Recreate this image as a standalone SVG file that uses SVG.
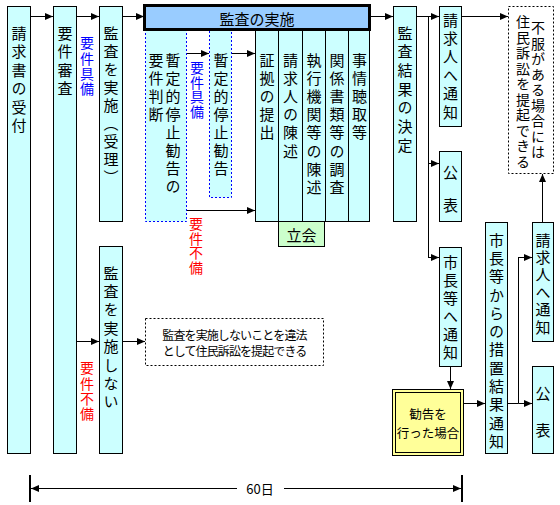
<svg xmlns="http://www.w3.org/2000/svg" width="560" height="505" viewBox="0 0 560 505">
<defs>
<marker id="ar" markerUnits="userSpaceOnUse" markerWidth="9" markerHeight="8" refX="8" refY="4" orient="auto">
<path d="M0,0.5 L8,4 L0,7.5 Z" fill="#000"/>
</marker>
</defs>
<style>
.box{fill:#ccffff;stroke:#000;stroke-width:1}
.dashb{fill:#ccffff;stroke:#0000ff;stroke-width:1;stroke-dasharray:2,2}
.dashk{fill:#fff;stroke:#000;stroke-width:1;stroke-dasharray:2,2}
.ln{fill:none;stroke:#000;stroke-width:1}
.arr{fill:none;stroke:#000;stroke-width:1;marker-end:url(#ar)}
text{font-family:"Noto Sans CJK JP","Noto Sans CJK SC",sans-serif;fill:#000}
.v{font-size:15px;writing-mode:vertical-rl;letter-spacing:3.5px}
.vs{font-size:14px;writing-mode:vertical-rl;letter-spacing:1.2px}
.h{font-size:15px;text-anchor:middle;dominant-baseline:central}
.blue{fill:#0000ff}
.red{fill:#ff0000}
</style>

<g id="connectors">
<line class="arr" x1="31" y1="16.5" x2="53" y2="16.5"/>
<line class="arr" x1="77" y1="16.5" x2="99" y2="16.5"/>
<line class="arr" x1="123" y1="16.5" x2="144" y2="16.5"/>
<line class="arr" x1="370" y1="16.5" x2="393" y2="16.5"/>
<line class="arr" x1="417" y1="16.5" x2="439" y2="16.5"/>
<polyline class="ln" points="428.5,16.5 428.5,257.5"/>
<line class="arr" x1="428.5" y1="163.5" x2="439" y2="163.5"/>
<line class="arr" x1="428" y1="257.5" x2="439" y2="257.5"/>
<line class="arr" x1="462" y1="16.5" x2="508" y2="16.5"/>
<line class="arr" x1="542.5" y1="222" x2="542.5" y2="174"/>
<line class="arr" x1="187" y1="53.5" x2="209" y2="53.5"/>
<line class="arr" x1="232" y1="53.5" x2="255" y2="53.5"/>
<line class="arr" x1="187" y1="210.5" x2="255" y2="210.5"/>
<line class="arr" x1="77" y1="341.5" x2="99" y2="341.5"/>
<line class="arr" x1="123" y1="341.5" x2="145" y2="341.5"/>
<line class="arr" x1="450.5" y1="367" x2="450.5" y2="389"/>
<line class="arr" x1="464" y1="403.5" x2="485" y2="403.5"/>
<polyline class="ln" points="508,403.5 518.5,403.5 518.5,257.5"/>
<line class="arr" x1="518" y1="257.5" x2="532" y2="257.5"/>
<line class="arr" x1="518.5" y1="403.5" x2="532" y2="403.5"/>
<line class="arr" x1="237" y1="488.5" x2="31" y2="488.5"/>
<line class="arr" x1="284" y1="488.5" x2="461" y2="488.5"/>
<line x1="30" y1="475" x2="30" y2="502" stroke="#000" stroke-width="2"/>
<line x1="462" y1="475" x2="462" y2="502" stroke="#000" stroke-width="2"/>
<text x="260" y="488.5" class="h" style="font-size:13px">60日</text>
</g>

<g id="n-uketsuke">
<rect class="box" x="7.5" y="6.5" width="23" height="447"/>
<text class="v" x="19" y="25.5">請求書の受付</text>
</g>
<g id="n-shinsa">
<rect class="box" x="53.5" y="6.5" width="23" height="447"/>
<text class="v" x="65" y="25.5">要件審査</text>
</g>
<text id="l-gubi1" class="vs blue" x="87" y="36">要件具備</text>
<text id="l-fubi1" class="vs red" x="87" y="361">要件不備</text>
<g id="n-juri">
<rect class="box" x="99.5" y="6.5" width="23" height="215"/>
<text class="v" x="111" y="25.5" style="letter-spacing:3px">監査を実施（受理）</text>
</g>
<g id="n-shinai">
<rect class="box" x="99.5" y="246.5" width="23" height="207"/>
<text class="v" x="111" y="265.5" style="letter-spacing:3.4px">監査を実施しない</text>
</g>
<g id="n-ihou">
<rect class="dashk" x="145.5" y="318.5" width="178" height="47"/>
<text x="234.5" y="334.5" class="h" style="font-size:12px;letter-spacing:-0.9px">監査を実施しないことを違法</text>
<text x="234.5" y="350" class="h" style="font-size:12px;letter-spacing:-0.9px">として住民訴訟を提起できる</text>
</g>

<g id="n-handan">
<rect class="dashb" x="145.5" y="30" width="41" height="191.5"/>
<text class="v" x="173" y="52.5" style="letter-spacing:3.1px">暫定的停止勧告の</text>
<text class="v" x="156" y="52.5" style="letter-spacing:3.1px">要件判断</text>
</g>
<text id="l-gubi2" class="vs blue" x="197" y="61" style="letter-spacing:0.5px">要件具備</text>
<text id="l-fubi2" class="vs red" x="196" y="217" style="letter-spacing:0.5px">要件不備</text>
<g id="n-kankoku">
<rect class="dashb" x="209.5" y="30" width="22" height="167.5"/>
<text class="v" x="221" y="52.5" style="letter-spacing:3.1px">暫定的停止勧告</text>
</g>

<g id="n-cols">
<rect class="box" x="255.5" y="29.5" width="114" height="192"/>
<line class="ln" x1="278.5" y1="30" x2="278.5" y2="221.5"/>
<line class="ln" x1="302.5" y1="30" x2="302.5" y2="221.5"/>
<line class="ln" x1="325.5" y1="30" x2="325.5" y2="221.5"/>
<line class="ln" x1="348.5" y1="30" x2="348.5" y2="221.5"/>
<text class="v" x="267" y="52.5" style="letter-spacing:3.2px">証拠の提出</text>
<text class="v" x="290.5" y="52.5" style="letter-spacing:3.2px">請求人の陳述</text>
<text class="v" x="314" y="52.5" style="letter-spacing:3.2px">執行機関等の陳述</text>
<text class="v" x="337" y="52.5" style="letter-spacing:3.2px">関係書類等の調査</text>
<text class="v" x="359.5" y="52.5" style="letter-spacing:3.2px">事情聴取等</text>
</g>
<g id="n-tachiai">
<rect x="278.5" y="221.5" width="46" height="25" fill="#ccffcc" stroke="#000"/>
<text x="301.5" y="234.5" class="h">立会</text>
</g>
<g id="n-header">
<rect x="144.5" y="5.5" width="225" height="24" fill="#99ccff" stroke="#000" stroke-width="3"/>
<text x="257" y="18" class="h">監査の実施</text>
</g>

<g id="n-kettei">
<rect class="box" x="393.5" y="6.5" width="23" height="215"/>
<text class="v" x="405" y="25.5" style="letter-spacing:3.7px">監査結果の決定</text>
</g>
<g id="n-tsuchi1">
<rect class="box" x="439.5" y="6.5" width="22" height="120"/>
<text class="v" x="450.5" y="12.5" style="letter-spacing:3.4px">請求人へ通知</text>
</g>
<g id="n-kouhyou1">
<rect class="box" x="439.5" y="151.5" width="22" height="70"/>
<text class="v" x="450.5" y="164.5" style="letter-spacing:18px">公表</text>
</g>
<g id="n-fufuku">
<rect class="dashk" x="508.5" y="6.5" width="45" height="167"/>
<text class="vs" x="538" y="21" style="letter-spacing:1.5px">不服がある場合には</text>
<text class="vs" x="523" y="15" style="letter-spacing:1.5px">住民訴訟を提起できる</text>
</g>
<g id="n-shichou">
<rect class="box" x="439.5" y="247.5" width="22" height="119"/>
<text class="v" x="450.5" y="254.5" style="letter-spacing:3px">市長等へ通知</text>
</g>
<g id="n-okonatta">
<rect x="392.5" y="389.5" width="71" height="66" fill="#ffff99" stroke="#000"/>
<rect x="395.5" y="392.5" width="65" height="60" fill="none" stroke="#000"/>
<text x="428" y="413" class="h" style="font-size:12.5px">勧告を</text>
<text x="428" y="432" class="h" style="font-size:12.5px">行った場合</text>
</g>
<g id="n-sochi">
<rect class="box" x="485.5" y="222.5" width="22" height="231"/>
<text class="v" x="496.5" y="232.5" style="letter-spacing:3.3px">市長等からの措置結果通知</text>
</g>
<g id="n-tsuchi2">
<rect class="box" x="532.5" y="222.5" width="21" height="119"/>
<text class="v" x="543" y="232.5" style="letter-spacing:2.4px">請求人へ通知</text>
</g>
<g id="n-kouhyou2">
<rect class="box" x="532.5" y="366.5" width="21" height="87"/>
<text class="v" x="543" y="385.5" style="letter-spacing:22px">公表</text>
</g>
</svg>
